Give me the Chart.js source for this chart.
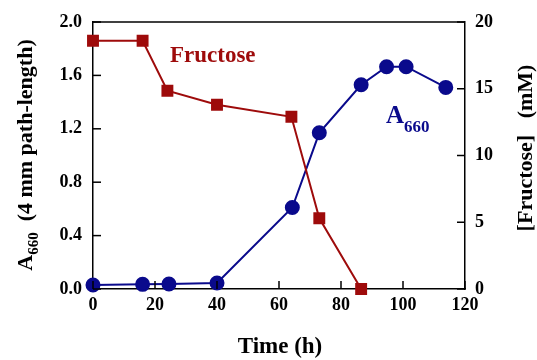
<!DOCTYPE html>
<html>
<head>
<meta charset="utf-8">
<script src="https://cdn.jsdelivr.net/npm/chart.js@4"></script>
<style>
  html, body { margin: 0; padding: 0; background: #fff; }
  #wrap { width: 537px; height: 360px; }
</style>
</head>
<body>
<div id="wrap"><canvas id="growthChart"></canvas></div>
<script>
// data
let timeA660 = [0, 16, 24.5, 40, 64.3, 73, 86.5, 94.7, 101, 113.8];
let a660 = [0.03, 0.035, 0.037, 0.045, 0.61, 1.17, 1.53, 1.665, 1.665, 1.51];
let timeFructose = [0, 16, 24, 40, 64, 73, 86.5];
let fructose = [18.6, 18.6, 14.85, 13.8, 12.9, 5.3, 0];
let xTicks = [0, 20, 40, 60, 80, 100, 120];

const RED = '#9e0b0b';
const BLUE = '#0a0a8c';
const FONT = '"Liberation Serif", "Times New Roman", serif';

let toPoints = function (xs, ys) {
  let pts = [];
  for (let i = 0; i < xs.length; i++) {
    pts.push({ x: xs[i], y: ys[i] });
  }
  return pts;
};

// inward tick marks on the three axes
const inwardTicks = {
  id: 'inwardTicks',
  afterDatasetsDraw(chart) {
    const ctx = chart.ctx;
    const area = chart.chartArea;
    ctx.save();
    ctx.strokeStyle = '#000';
    ctx.lineWidth = 1.5;
    const len = 8;
    chart.scales.x.ticks.forEach(t => {
      const px = chart.scales.x.getPixelForValue(t.value);
      ctx.beginPath();
      ctx.moveTo(px, area.bottom);
      ctx.lineTo(px, area.bottom - len);
      ctx.stroke();
    });
    chart.scales.y.ticks.forEach(t => {
      const py = chart.scales.y.getPixelForValue(t.value);
      ctx.beginPath();
      ctx.moveTo(area.left, py);
      ctx.lineTo(area.left + len, py);
      ctx.stroke();
    });
    chart.scales.y2.ticks.forEach(t => {
      const py = chart.scales.y2.getPixelForValue(t.value);
      ctx.beginPath();
      ctx.moveTo(area.right, py);
      ctx.lineTo(area.right - len, py);
      ctx.stroke();
    });
    // top border
    ctx.beginPath();
    ctx.moveTo(area.left, area.top);
    ctx.lineTo(area.right, area.top);
    ctx.stroke();
    ctx.restore();
  }
};

// axis titles and in-plot labels (with subscripts)
const labelsPlugin = {
  id: 'labelsPlugin',
  afterDraw(chart) {
    const ctx = chart.ctx;
    ctx.save();
    ctx.textBaseline = 'alphabetic';

    // left axis title, rotated
    ctx.save();
    ctx.translate(32, 155);
    ctx.rotate(-Math.PI / 2);
    ctx.fillStyle = '#000';
    const big = 'bold 22px ' + FONT;
    const sub = 'bold 15px ' + FONT;
    ctx.font = big;
    const wA = ctx.measureText('A').width;
    const rest = '  (4 mm path-length)';
    const wRest = ctx.measureText(rest).width;
    ctx.font = sub;
    const wSub = ctx.measureText('660').width;
    let x0 = -(wA + wSub + wRest) / 2;
    ctx.font = big;
    ctx.textAlign = 'left';
    ctx.fillText('A', x0, 0);
    ctx.font = sub;
    ctx.fillText('660', x0 + wA, 6);
    ctx.font = big;
    ctx.fillText(rest, x0 + wA + wSub, 0);
    ctx.restore();

    // right axis title
    ctx.save();
    ctx.translate(532, 148);
    ctx.rotate(-Math.PI / 2);
    ctx.fillStyle = '#000';
    ctx.font = 'bold 22px ' + FONT;
    ctx.textAlign = 'center';
    ctx.fillText('[Fructose]   (mM)', 0, 0);
    ctx.restore();

    // bottom axis title
    ctx.fillStyle = '#000';
    ctx.font = 'bold 23px ' + FONT;
    ctx.textAlign = 'center';
    ctx.fillText('Time (h)', 280, 353);

    // Fructose label
    ctx.fillStyle = RED;
    ctx.font = 'bold 23px ' + FONT;
    ctx.textAlign = 'left';
    ctx.fillText('Fructose', 170, 62);

    // A660 label
    ctx.fillStyle = BLUE;
    ctx.font = 'bold 25px ' + FONT;
    ctx.fillText('A', 386, 123);
    const wA2 = ctx.measureText('A').width;
    ctx.font = 'bold 17px ' + FONT;
    ctx.fillText('660', 386 + wA2, 132);

    ctx.restore();
  }
};

const data = {
  datasets: [
    {
      label: 'Fructose',
      data: toPoints(timeFructose, fructose),
      yAxisID: 'y2',
      borderColor: RED,
      backgroundColor: RED,
      borderWidth: 2,
      pointStyle: 'rect',
      pointRadius: 7,
      pointHoverRadius: 7,
      showLine: true,
      clip: false,
    },
    {
      label: 'A660',
      data: toPoints(timeA660, a660),
      yAxisID: 'y',
      borderColor: BLUE,
      backgroundColor: BLUE,
      borderWidth: 2,
      pointStyle: 'circle',
      pointRadius: 6.5,
      pointHoverRadius: 6.5,
      showLine: true,
      clip: false,
    },
  ]
};

const tickFont = { family: FONT, size: 18, weight: 'bold' };

const config = {
  type: 'scatter',
  data,
  options: {
    responsive: false,
    animation: false,
    events: [],
    layout: { padding: { top: 22, right: 0, bottom: 0, left: 0 } },
    plugins: {
      legend: { display: false },
      tooltip: { enabled: false },
    },
    scales: {
      x: {
        type: 'linear',
        min: 0,
        max: 120,
        afterBuildTicks: s => { s.ticks = xTicks.map(v => ({ value: v })); },
        afterFit: s => { s.height = 71; },
        grid: { drawOnChartArea: false, drawTicks: false },
        border: { color: '#000', width: 1.5 },
        ticks: { color: '#000', font: tickFont, padding: 6, maxRotation: 0 },
      },
      y: {
        position: 'left',
        min: 0,
        max: 2,
        afterFit: s => { s.width = 93; },
        grid: { drawOnChartArea: false, drawTicks: false },
        border: { color: '#000', width: 1.5 },
        ticks: {
          stepSize: 0.4,
          color: '#000',
          font: tickFont,
          padding: 11,
          callback: v => v.toFixed(1),
        },
      },
      y2: {
        position: 'right',
        min: 0,
        max: 20,
        afterFit: s => { s.width = 72; },
        grid: { drawOnChartArea: false, drawTicks: false },
        border: { color: '#000', width: 1.5 },
        ticks: { stepSize: 5, color: '#000', font: tickFont, padding: 10 },
      },
    },
  },
  plugins: [inwardTicks, labelsPlugin],
};

const canvas = document.getElementById('growthChart');
canvas.width = 537;
canvas.height = 360;
let growthChart = new Chart(canvas, config);
</script>
</body>
</html>
